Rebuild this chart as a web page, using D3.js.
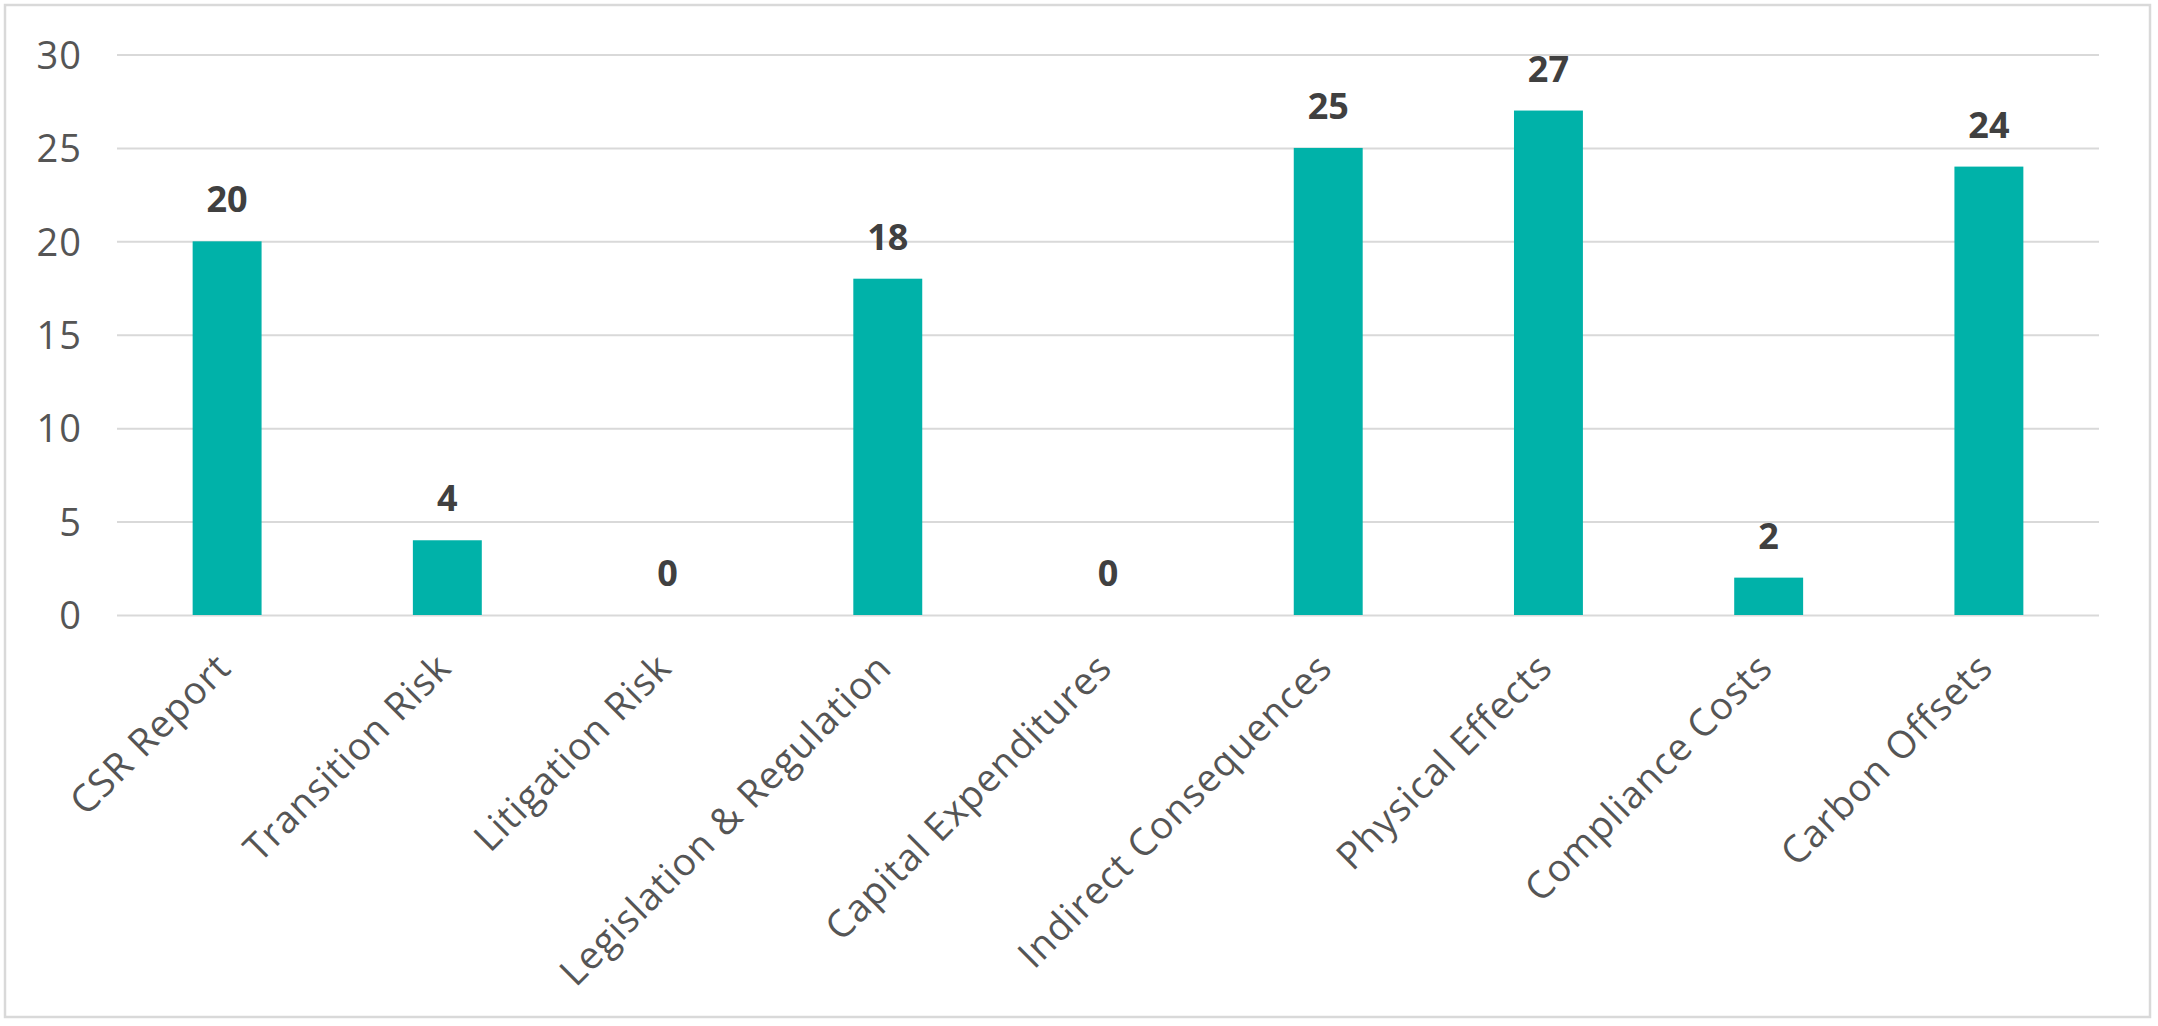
<!DOCTYPE html>
<html>
<head>
<meta charset="utf-8">
<script src="https://cdn.jsdelivr.net/npm/d3@7"></script>
<style>
  html, body { margin: 0; padding: 0; background: #ffffff; }
  svg { display: block; }
</style>
</head>
<body>
<svg id="chart" width="2158" height="1026"></svg>
<script>
const categories = ["CSR Report", "Transition Risk", "Litigation Risk", "Legislation & Regulation",
  "Capital Expenditures", "Indirect Consequences", "Physical Effects", "Compliance Costs", "Carbon Offsets"];
const values = [20, 4, 0, 18, 0, 25, 27, 2, 24];
const yTicks = [0, 5, 10, 15, 20, 25, 30];

const W = 2158, H = 1026;
const plot = { left: 117, right: 2099, top: 54.5, bottom: 615 };

const svg = d3.select("#chart");

svg.append("rect")
  .attr("x", 0).attr("y", 0).attr("width", W).attr("height", H)
  .attr("fill", "#ffffff");

svg.append("rect")
  .attr("x", 5).attr("y", 5).attr("width", 2145).attr("height", 1012)
  .attr("fill", "none").attr("stroke", "#d9d9d9").attr("stroke-width", 2.5);

const x = d3.scaleBand()
  .domain(categories)
  .range([plot.left, plot.right])
  .paddingInner(0.687)
  .paddingOuter(0.3435);

const y = d3.scaleLinear()
  .domain([0, 30])
  .range([plot.bottom, plot.top]);

// y axis with gridlines
const yAxis = svg.append("g")
  .attr("transform", `translate(${plot.left},0)`)
  .call(d3.axisLeft(y).tickValues(yTicks).tickSize(-(plot.right - plot.left)).tickPadding(35));
yAxis.select(".domain").remove();
yAxis.selectAll(".tick line").attr("stroke", "#d9d9d9").attr("stroke-width", 2);
yAxis.selectAll(".tick text")
  .attr("fill", "#555555")
  .style("font-family", "'Open Sans', sans-serif")
  .style("font-weight", "500")
  .style("font-size", "38px")
  .style("letter-spacing", "1px")
  .attr("dy", "0.36em");

// bars
svg.append("g").selectAll("rect")
  .data(categories)
  .join("rect")
  .attr("x", (d) => x(d))
  .attr("width", x.bandwidth())
  .attr("y", (d, i) => y(values[i]))
  .attr("height", (d, i) => y(0) - y(values[i]))
  .attr("fill", "#00b2a9");

// data labels
svg.append("g").selectAll("text")
  .data(categories)
  .join("text")
  .attr("x", (d) => x(d) + x.bandwidth() / 2)
  .attr("y", (d, i) => y(values[i]) - 29)
  .attr("text-anchor", "middle")
  .attr("fill", "#404040")
  .style("font-family", "'Open Sans', sans-serif")
  .style("font-weight", "700")
  .style("font-size", "36px")
  .text((d, i) => values[i]);

// x axis labels
const xAxis = svg.append("g")
  .attr("transform", `translate(0,${plot.bottom})`)
  .call(d3.axisBottom(x).tickSize(0));
xAxis.select(".domain").remove();
xAxis.selectAll(".tick text")
  .attr("x", 0).attr("y", 0).attr("dy", 0)
  .attr("transform", "translate(6,55) rotate(-45)")
  .attr("text-anchor", "end")
  .attr("fill", "#555555")
  .style("font-family", "'Open Sans', sans-serif")
  .style("font-weight", "500")
  .style("font-size", "38px")
  .style("letter-spacing", "1px");
</script>
</body>
</html>
